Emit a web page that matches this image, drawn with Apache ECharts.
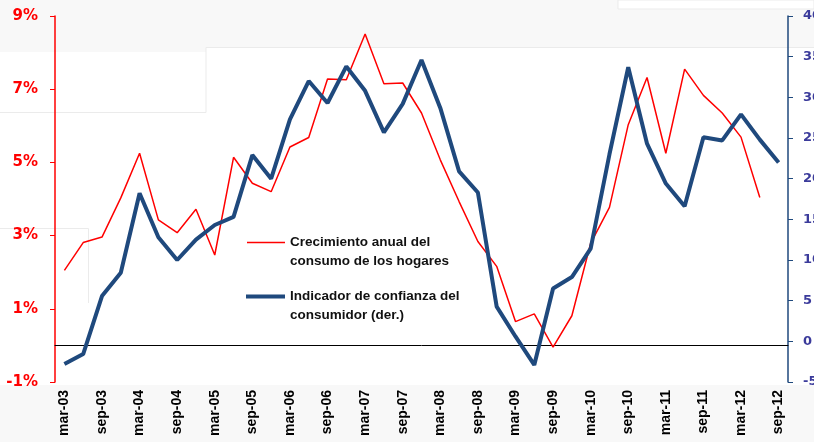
<!DOCTYPE html>
<html>
<head>
<meta charset="utf-8">
<script src="https://cdn.jsdelivr.net/npm/echarts@6/dist/echarts.min.js"></script>
<style>
  html, body { margin: 0; padding: 0; background: #fff; }
  #chart { width: 814px; height: 442px; }
</style>
</head>
<body>
<div id="chart"></div>
<script>
// trimestres mar-03 .. sep-12
const months = ['mar', 'jun', 'sep', 'dic']
const quarters = []
for (let y = 3; y <= 12; y++) {
    months.forEach(m => quarters.push(m + '-' + (y < 10 ? '0' + y : y)))
}
quarters.length = 39

// crecimiento anual del consumo (%), eje izq.
const consumo = [
    2.05, 2.81, 2.96, 4.03, 5.25, 3.43, 3.08, 3.72, 2.47, 5.14,
    4.43, 4.20, 5.42, 5.68, 7.28, 7.26, 8.51, 7.15, 7.17, 6.35,
    5.07, 3.93, 2.84, 2.16, 0.65, 0.86, -0.05, 0.81, 2.79, 3.77,
    6.03, 7.32, 5.25, 7.55, 6.83, 6.35, 5.69, 4.04, null
]

// indicador de confianza del consumidor, eje der.
const confianza = [
    -2.8, -1.56, 5.57, 8.44, 18.2, 12.8, 10.0, 12.5, 14.3, 15.3,
    22.9, 20.0, 27.3, 32.0, 29.3, 33.8, 30.8, 25.7, 29.2, 34.6,
    28.7, 20.9, 18.3, 4.26, 0.6, -2.9, 6.5, 7.9, 11.4, 23.0,
    33.7, 24.3, 19.4, 16.6, 25.1, 24.7, 27.9, 24.8, 22.0
]

const nameConsumo = 'Crecimiento anual del\nconsumo de los hogares'
const nameConfianza = 'Indicador de confianza del\nconsumidor (der.)'

const font = '"Liberation Sans", Arial, sans-serif'
const red = '#FF0000'
const navy = '#1F497D'

const faint = { stroke: '#ebebeb', lineWidth: 1 }
const legendText = {
    fontFamily: font, fontWeight: 'bold', fontSize: 13.5, color: '#111', lineHeight: 19
}
// blank first line so the icon sits beside the first text line
const legendFmt = name => ' \n' + name

const chart = echarts.init(document.getElementById('chart'))
chart.setOption({
    animation: false,
    graphic: [
        { type: 'rect', z: -10, shape: { x: 0, y: 0, width: 814, height: 47 }, style: { fill: '#f8f8f8' } },
        { type: 'rect', z: -10, shape: { x: 0, y: 47, width: 206, height: 5 }, style: { fill: '#f8f8f8' } },
        { type: 'rect', z: -9, shape: { x: 618, y: 0, width: 196, height: 9 }, style: { fill: '#fff', stroke: '#ebebeb' } },
        { type: 'polyline', z: -9, shape: { points: [[206, 47.5], [814, 47.5]] }, style: faint },
        { type: 'polyline', z: -9, shape: { points: [[206, 47.5], [206, 112.5], [0, 112.5]] }, style: faint },
        { type: 'polyline', z: -9, shape: { points: [[0, 228.5], [88.5, 228.5], [88.5, 303]] }, style: faint },
        { type: 'rect', z: -10, shape: { x: 0, y: 385, width: 814, height: 57 }, style: { fill: '#f8f8f8' } }
    ],
    grid: { left: 55, right: 26, top: 16, bottom: 60, containLabel: false, outerBoundsMode: 'none' },
    legend: [
        {
            left: 242, top: 209, orient: 'vertical', formatter: legendFmt,
            icon: 'rect', itemWidth: 38, itemHeight: 1.5, itemGap: 0,
            data: [nameConsumo], textStyle: legendText
        },
        {
            left: 241, top: 263, orient: 'vertical', formatter: legendFmt,
            icon: 'rect', itemWidth: 39, itemHeight: 4, itemGap: 0,
            data: [nameConfianza], textStyle: legendText
        }
    ],
    xAxis: [
        {
            type: 'category', data: quarters, boundaryGap: true,
            axisLine: { onZero: true, onZeroAxisIndex: 0, lineStyle: { color: '#000', width: 1 } },
            axisTick: { interval: 1, length: 5, lineStyle: { color: '#000' } },
            axisLabel: { show: false }
        },
        {
            type: 'category', data: quarters, boundaryGap: true, position: 'bottom',
            axisLine: { show: false, onZero: false },
            axisTick: { show: false },
            axisLabel: {
                interval: 1, rotate: 90, margin: 8,
                fontFamily: font, fontWeight: 'bold', fontSize: 14, color: '#000'
            }
        }
    ],
    yAxis: [
        {
            type: 'value', min: -1, max: 9, interval: 2, position: 'left',
            splitLine: { show: false },
            axisLine: { show: true, lineStyle: { color: red, width: 1.5 } },
            axisTick: { show: true, length: 5, lineStyle: { color: red } },
            axisLabel: {
                formatter: '{value}%', margin: 17,
                fontFamily: '"DejaVu Sans", sans-serif', fontWeight: 'bold', fontSize: 15, color: red
            }
        },
        {
            type: 'value', min: -5, max: 40, interval: 5, position: 'right',
            splitLine: { show: false },
            axisLine: { show: true, lineStyle: { color: navy, width: 1.5 } },
            axisTick: { show: true, length: 5, lineStyle: { color: navy } },
            axisLabel: {
                margin: 15,
                fontFamily: '"DejaVu Sans", sans-serif', fontWeight: 'bold', fontSize: 13, color: '#3B3B9B'
            }
        }
    ],
    series: [
        {
            name: nameConsumo, type: 'line', data: consumo,
            xAxisIndex: 0, yAxisIndex: 0, symbol: 'none',
            lineStyle: { color: red, width: 1.5 }, itemStyle: { color: red }
        },
        {
            name: nameConfianza, type: 'line', data: confianza,
            xAxisIndex: 0, yAxisIndex: 1, symbol: 'none',
            lineStyle: { color: navy, width: 4 }, itemStyle: { color: navy }
        }
    ]
})
</script>
</body>
</html>
